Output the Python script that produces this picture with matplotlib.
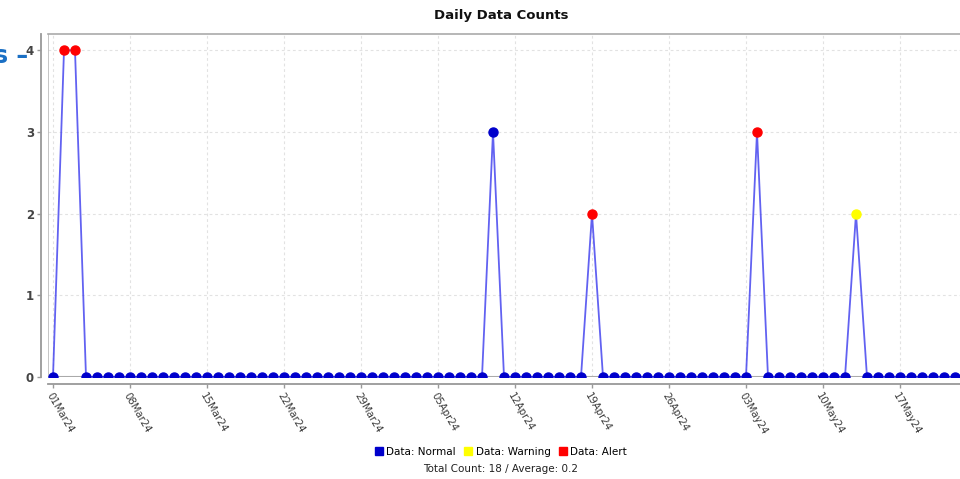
import matplotlib
matplotlib.use("Agg")
import matplotlib.pyplot as plt
import matplotlib.dates as mdates
from matplotlib.lines import Line2D
import numpy as np
import pandas as pd

# ---- data ----
start_date = "2024-03-01"
end_date = "2024-05-22"
peak_dates = ["2024-03-02", "2024-03-03", "2024-04-10", "2024-04-19", "2024-05-04", "2024-05-13"]
peak_values = [4, 4, 3, 2, 3, 2]
peak_status = ["Alert", "Alert", "Normal", "Alert", "Alert", "Warning"]
status_names = ["Normal", "Warning", "Alert"]
status_colors = ["#0000CC", "#FFFF00", "#FF0000"]
tick_dates = pd.date_range("2024-03-01", "2024-05-17", freq="7D")

dates = pd.date_range(start_date, end_date, freq="D")
counts = pd.Series(0, index=dates)
status = pd.Series("Normal", index=dates)
for d, v, s in zip(peak_dates, peak_values, peak_status):
    counts[pd.Timestamp(d)] = v
    status[pd.Timestamp(d)] = s

W, H = 960, 479
fig = plt.figure(figsize=(W / 100, H / 100), dpi=100)
fig.patch.set_facecolor("white")

left_px, right_px, top_px, bottom_px = 48, 965, 34, 377
ax = fig.add_axes([left_px / W, 1 - bottom_px / H, (right_px - left_px) / W, (bottom_px - top_px) / H])

x = mdates.date2num(dates.to_pydatetime())
ax.plot(x, counts.values, color="#3b3bee", lw=1.3, alpha=0.8, zorder=3)
cmap = dict(zip(status_names, status_colors))
for s in status_names:
    m = (status == s).values
    ax.plot(x[m], counts.values[m], ls="none", marker="o", ms=6.5,
            color=cmap[s], mec=cmap[s], zorder=4)

x0 = x[0]
px_per_day = 11.0
ax.set_xlim(x0 - (53 - left_px) / px_per_day, x0 + (right_px - 53) / px_per_day)
ax.set_ylim(0, 4.2)

for sp in ["top", "right"]:
    ax.spines[sp].set_color("#aaaaaa")
    ax.spines[sp].set_linewidth(1.2)
ax.spines["right"].set_visible(False)
for sp in ["left", "bottom"]:
    ax.spines[sp].set_color("#999999")
    ax.spines[sp].set_linewidth(1.3)
ax.spines["left"].set_position(("outward", 5))
ax.spines["bottom"].set_position(("outward", 5))

ax.set_yticks([0, 1, 2, 3, 4])
ax.set_yticklabels(["0", "1", "2", "3", "4"], fontsize=8.5, fontweight="bold", color="#444444")
tnum = mdates.date2num(tick_dates.to_pydatetime())
ax.set_xticks(tnum)
ax.set_xticklabels([d.strftime("%d%b%y") for d in tick_dates], fontsize=7.3, color="#3a3a3a")
for lbl in ax.get_xticklabels():
    lbl.set_rotation(-60)
    lbl.set_rotation_mode("anchor")
    lbl.set_ha("left")
    lbl.set_va("top")

ax.grid(True, color="#e2e2e2", ls=(0, (2.5, 2.5)), lw=0.8)
ax.set_axisbelow(True)

# plot border lines (inner)
ax.axvline(ax.get_xlim()[0], color="#bbbbbb", lw=1.2, zorder=1)
ax.axhline(0, color="#aaaaaa", lw=1.5, zorder=2)

ax.tick_params(axis="both", color="#999999", length=3, width=1)
ax.tick_params(axis="y", pad=2)
ax.tick_params(axis="x", pad=2)

fig.text(501 / W, 1 - 15 / H, "Daily Data Counts", ha="center", va="center",
         fontsize=9.5, fontweight="bold", color="#111111")

handles = [Line2D([], [], ls="none", marker="s", ms=6, color=c, mec=c) for c in status_colors]
labels = ["Data: " + s for s in status_names]
fig.legend(handles, labels, loc="center", bbox_to_anchor=(501 / W, 1 - 452 / H), ncol=3,
           frameon=False, fontsize=7.5, handlelength=0.8, handletextpad=0.3,
           columnspacing=0.8, borderpad=0)

total = int(counts.sum())
avg = counts.mean()
fig.text(501 / W, 1 - 469 / H, f"Total Count: {total} / Average: {avg:.1f}", ha="center",
         va="center", fontsize=7.5, color="#222222")

fig.text(-0.006, 1 - 56 / H, "s \u2013", ha="left", va="center", fontsize=17,
         fontweight="bold", color="#1a6fc4")

fig.savefig("out.png", dpi=100)
